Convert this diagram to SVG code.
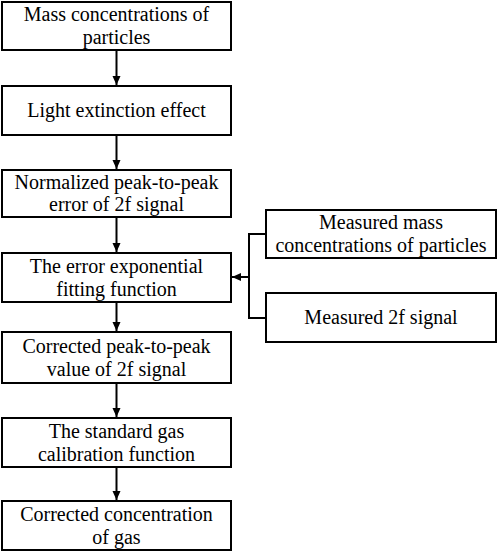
<svg xmlns="http://www.w3.org/2000/svg" width="498" height="553" viewBox="0 0 498 553">
<style>
.box{fill:#fff;stroke:#000;stroke-width:2}
.t{font-family:"Liberation Serif","Times New Roman",serif;font-size:20px;fill:#000;text-anchor:middle}
.c{fill:none;stroke:#000;stroke-width:2}
</style>
<defs>
<marker id="ah" markerWidth="10" markerHeight="10" refX="9" refY="5" orient="auto" markerUnits="userSpaceOnUse">
<path d="M0,1 L9,5 L0,9 Z" fill="#000"/>
</marker>
</defs>
<rect width="498" height="553" fill="#fff"/>
<g id="n1"><rect class="box" x="2" y="2" width="229" height="48"/><text class="t" x="116.5" y="21">Mass concentrations of</text><text class="t" x="116.5" y="44">particles</text></g>
<g id="n2"><rect class="box" x="2" y="86" width="229" height="49"/><text class="t" x="116.5" y="117">Light extinction effect</text></g>
<g id="n3"><rect class="box" x="2" y="170" width="229" height="47"/><text class="t" x="116.5" y="189">Normalized peak-to-peak</text><text class="t" x="116.5" y="211">error of 2f signal</text></g>
<g id="n4"><rect class="box" x="2" y="253" width="229" height="49"/><text class="t" x="116.5" y="273">The error exponential</text><text class="t" x="116.5" y="296">fitting function</text></g>
<g id="n5"><rect class="box" x="2" y="332" width="229" height="51"/><text class="t" x="116.5" y="353">Corrected peak-to-peak</text><text class="t" x="116.5" y="376">value of 2f signal</text></g>
<g id="n6"><rect class="box" x="2" y="418" width="229" height="49"/><text class="t" x="116.5" y="438">The standard gas</text><text class="t" x="116.5" y="461">calibration function</text></g>
<g id="n7"><rect class="box" x="2" y="501" width="229" height="49"/><text class="t" x="116.5" y="521">Corrected concentration</text><text class="t" x="116.5" y="544">of gas</text></g>
<g id="n8"><rect class="box" x="266" y="210" width="230" height="48"/><text class="t" x="381" y="229">Measured mass</text><text class="t" x="381" y="252">concentrations of particles</text></g>
<g id="n9"><rect class="box" x="266" y="293" width="230" height="49"/><text class="t" x="381" y="324">Measured 2f signal</text></g>
<g id="connectors">
<line class="c" x1="116.5" y1="51" x2="116.5" y2="85" marker-end="url(#ah)"/>
<line class="c" x1="116.5" y1="136" x2="116.5" y2="169" marker-end="url(#ah)"/>
<line class="c" x1="116.5" y1="218" x2="116.5" y2="252" marker-end="url(#ah)"/>
<line class="c" x1="116.5" y1="303" x2="116.5" y2="331" marker-end="url(#ah)"/>
<line class="c" x1="116.5" y1="384" x2="116.5" y2="417" marker-end="url(#ah)"/>
<line class="c" x1="116.5" y1="468" x2="116.5" y2="500" marker-end="url(#ah)"/>
<polyline class="c" points="265,234 249,234 249,318 265,318"/>
<line class="c" x1="249" y1="277" x2="232" y2="277" marker-end="url(#ah)"/>
</g>
</svg>
